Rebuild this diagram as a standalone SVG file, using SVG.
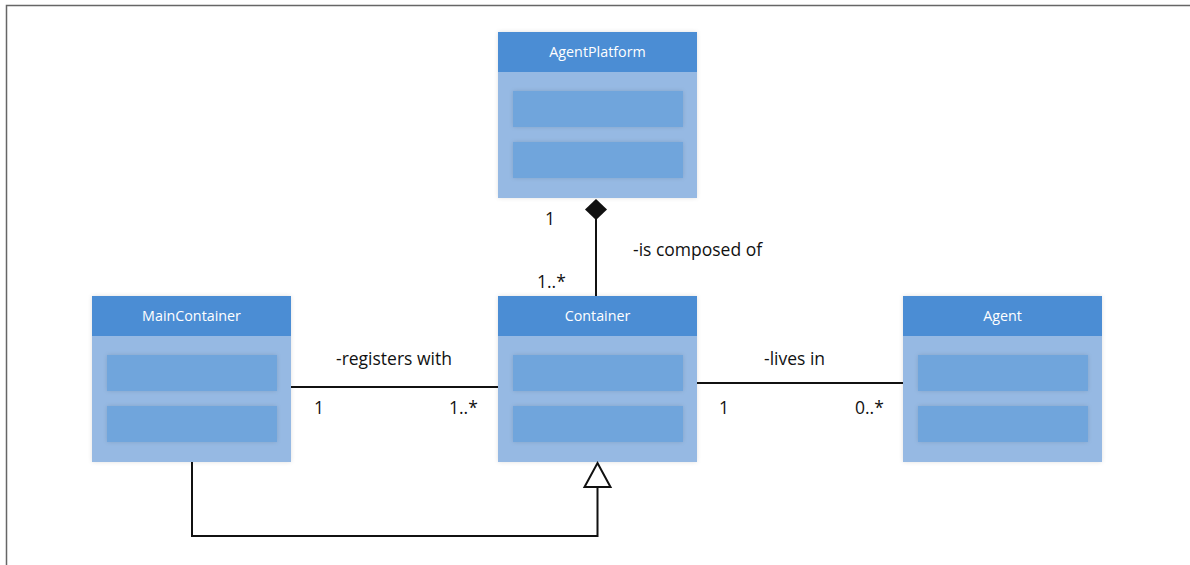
<svg xmlns="http://www.w3.org/2000/svg" width="1190" height="565" viewBox="0 0 1190 565">
  <style>
    .frame { fill: none; stroke: #666; stroke-width: 1.5; }
    .body { fill: #96b9e3; }
    .head { fill: #4b8dd4; }
    .slot { fill: #70a5dc; }
    .title { font-family: "Open Sans", "Liberation Sans", sans-serif; font-size: 14.3px; fill: #ffffff; text-anchor: middle; }
    .lbl { font-family: "Open Sans", "Liberation Sans", sans-serif; font-size: 17.5px; fill: #111; }
    .line { fill: none; stroke: #111; stroke-width: 2; }
  </style>
  <defs>
    <filter id="soft" x="-10%" y="-10%" width="120%" height="120%">
      <feDropShadow dx="0" dy="0" stdDeviation="2" flood-color="#000" flood-opacity="0.12"/>
    </filter>
    <g id="cls">
      <rect class="body" x="0" y="0" width="199" height="166" filter="url(#soft)"/>
      <rect class="head" x="0" y="0" width="199" height="40"/>
      <rect class="slot" x="15" y="59" width="170" height="36" filter="url(#soft)"/>
      <rect class="slot" x="15" y="110" width="170" height="36" filter="url(#soft)"/>
    </g>
  </defs>

  <rect width="1190" height="565" fill="#ffffff"/>
  <!-- outer frame, open on the right and bottom -->
  <path class="frame" d="M6.5 565 V5.5 H1190"/>

  <g id="node-agentplatform">
    <use href="#cls" x="498" y="32"/>
    <text class="title" x="597.5" y="57">AgentPlatform</text>
  </g>
  <g id="node-container">
    <use href="#cls" x="498" y="296"/>
    <text class="title" x="597.5" y="321">Container</text>
  </g>
  <g id="node-maincontainer">
    <use href="#cls" x="92" y="296"/>
    <text class="title" x="191.5" y="321">MainContainer</text>
  </g>
  <g id="node-agent">
    <use href="#cls" x="903" y="296"/>
    <text class="title" x="1002.5" y="321">Agent</text>
  </g>

  <g id="connectors">
    <!-- composition: Container -> AgentPlatform -->
    <line class="line" x1="596" y1="219" x2="596" y2="296"/>
    <polygon points="596,199 607,209.5 596,220 585,209.5" fill="#111"/>
    <!-- association: MainContainer - Container -->
    <line class="line" x1="291" y1="387" x2="498" y2="387"/>
    <!-- association: Container - Agent -->
    <line class="line" x1="697" y1="383" x2="903" y2="383"/>
    <!-- generalization: MainContainer -> Container -->
    <path class="line" d="M192 462 V536 H597.5 V487"/>
    <polygon points="597.5,463 610.5,487 584.5,487" fill="#ffffff" stroke="#111" stroke-width="2" stroke-linejoin="miter"/>
  </g>

  <g id="labels">
    <text class="lbl" x="545" y="225">1</text>
    <text class="lbl" x="537" y="288">1..*</text>
    <text class="lbl" x="633" y="256">-is composed of</text>
    <text class="lbl" x="336" y="365">-registers with</text>
    <text class="lbl" x="314" y="414">1</text>
    <text class="lbl" x="449" y="414">1..*</text>
    <text class="lbl" x="764" y="365">-lives in</text>
    <text class="lbl" x="719" y="414">1</text>
    <text class="lbl" x="855" y="414">0..*</text>
  </g>
</svg>
